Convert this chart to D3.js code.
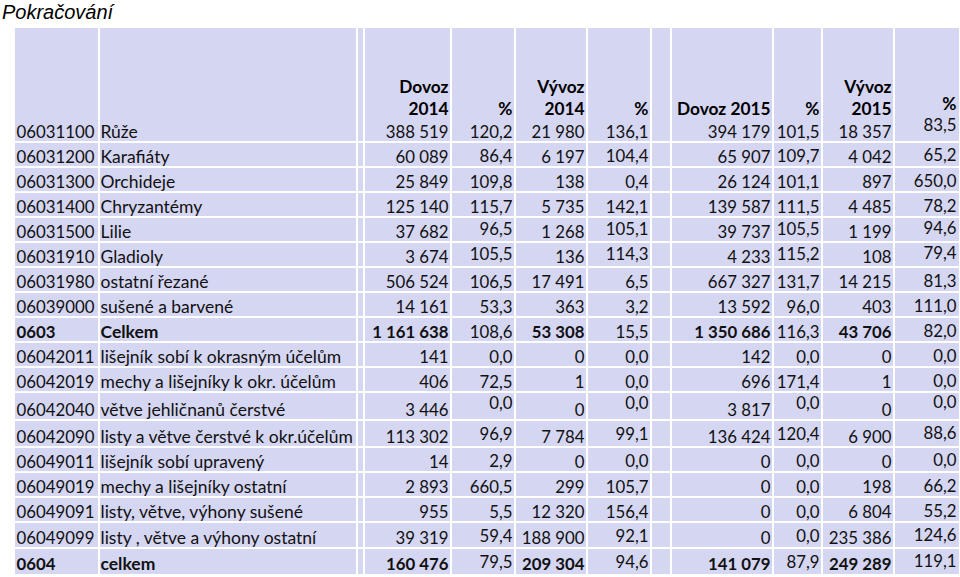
<!DOCTYPE html>
<html>
<head>
<meta charset="utf-8">
<script src="https://cdn.jsdelivr.net/npm/d3@7/dist/d3.min.js"></script>
<style>
  html, body { margin: 0; padding: 0; background: #ffffff; }
  svg { display: block; }
</style>
</head>
<body>
<svg id="chart" width="960" height="577"></svg>
<script>
// ---------- DATA ----------
const title = "Pokračování";
const headers = ["", "", "", "Dovoz\n2014", "%", "Vývoz\n2014", "%", "", "Dovoz 2015", "%", "Vývoz\n2015", "%"];
const codes = ["06031100","06031200","06031300","06031400","06031500","06031910","06031980","06039000","0603",
  "06042011","06042019","06042040","06042090","06049011","06049019","06049091","06049099","0604"];
const names = ["Růže","Karafiáty","Orchideje","Chryzantémy","Lilie","Gladioly","ostatní řezané","sušené a barvené","Celkem",
  "lišejník sobí k okrasným účelům","mechy a lišejníky k okr. účelům","větve jehličnanů čerstvé",
  "listy a větve čerstvé k okr.účelům","lišejník sobí upravený","mechy a lišejníky ostatní",
  "listy, větve, výhony sušené","listy , větve a výhony ostatní","celkem"];
const dovoz2014 = [388519,60089,25849,125140,37682,3674,506524,14161,1161638,141,406,3446,113302,14,2893,955,39319,160476];
const pctDovoz2014 = [120.2,86.4,109.8,115.7,96.5,105.5,106.5,53.3,108.6,0.0,72.5,0.0,96.9,2.9,660.5,5.5,59.4,79.5];
const vyvoz2014 = [21980,6197,138,5735,1268,136,17491,363,53308,0,1,0,7784,0,299,12320,188900,209304];
const pctVyvoz2014 = [136.1,104.4,0.4,142.1,105.1,114.3,6.5,3.2,15.5,0.0,0.0,0.0,99.1,0.0,105.7,156.4,92.1,94.6];
const dovoz2015 = [394179,65907,26124,139587,39737,4233,667327,13592,1350686,142,696,3817,136424,0,0,0,0,141079];
const pctDovoz2015 = [101.5,109.7,101.1,111.5,105.5,115.2,131.7,96.0,116.3,0.0,171.4,0.0,120.4,0.0,0.0,0.0,0.0,87.9];
const vyvoz2015 = [18357,4042,897,4485,1199,108,14215,403,43706,0,1,0,6900,0,198,6804,235386,249289];
const pctVyvoz2015 = [83.5,65.2,650.0,78.2,94.6,79.4,81.3,111.0,82.0,0.0,0.0,0.0,88.6,0.0,66.2,55.2,124.6,119.1];

// ---------- LAYOUT (not data) ----------
const colEdges = [15, 99, 357, 364, 451, 515, 587, 651, 671, 773, 822, 894, 959];
const rowHeights = [114,25,25,25,25,25,25,25,25,25,25,28,27,25,25,25,26,26];
const tableTop = 28;
const pctLift = [0,1,0,0,3,3,0,0,0,0,0,7,3,1,0,0,2,2];   // vertical lift of % cells per row
const FILL = "#d5d6f1";
const FONT = "Lato, 'Open Sans', sans-serif";
const FS_NUM = 16.8;
const FS_NAME = 17.5;
const FS_HDR = 17.3;

const loc = d3.formatLocale({decimal: ",", thousands: "\u00a0", grouping: [3], currency: ["", ""]});
const fInt = loc.format(",d");
const fPct = loc.format(",.1f");

const rowEdges = [tableTop, ...Array.from(d3.cumsum(rowHeights), v => v + tableTop)];
const tableBottom = rowEdges[rowEdges.length - 1];

const svg = d3.select("#chart");
const x = d3.scaleOrdinal().domain(d3.range(colEdges.length)).range(colEdges);
const y = d3.scaleOrdinal().domain(d3.range(rowEdges.length)).range(rowEdges);

// title
svg.append("text").attr("x", 2).attr("y", 19)
  .attr("font-family", "'Liberation Sans', Arial, sans-serif")
  .attr("font-style", "italic").attr("font-size", 20).attr("fill", "#000")
  .text(title);

// background
svg.append("rect").attr("x", x(0)).attr("y", tableTop)
  .attr("width", x(colEdges.length - 1) - x(0)).attr("height", tableBottom - tableTop)
  .attr("fill", FILL);

// grid lines (white)
const g = svg.append("g").attr("stroke", "#ffffff").attr("stroke-width", 2);
g.selectAll("line.v").data(d3.range(1, colEdges.length - 1)).join("line")
  .attr("x1", d => x(d)).attr("x2", d => x(d))
  .attr("y1", tableTop).attr("y2", tableBottom);
g.selectAll("line.h").data(d3.range(1, rowEdges.length - 1)).join("line")
  .attr("x1", x(0)).attr("x2", x(colEdges.length - 1))
  .attr("y1", d => y(d)).attr("y2", d => y(d));

// header text
const hdr = svg.append("g").attr("font-family", FONT).attr("font-size", FS_HDR)
  .attr("font-weight", "bold").attr("fill", "#000").attr("text-anchor", "end");
headers.forEach((h, ci) => {
  if (!h) return;
  const lines = h.split("\n");
  const last = ci === headers.length - 1;
  lines.forEach((ln, li) => {
    const base = last ? 110 : 115;
    hdr.append("text")
      .attr("x", x(ci + 1) - 2.5)
      .attr("y", base - (lines.length - 1 - li) * 22)
      .text(ln);
  });
});

// body
const columns = [
  {col: 0, arr: codes, type: "code", align: "start"},
  {col: 1, arr: names, type: "name", align: "start"},
  {col: 3, arr: dovoz2014, type: "int"},
  {col: 4, arr: pctDovoz2014, type: "pct"},
  {col: 5, arr: vyvoz2014, type: "int"},
  {col: 6, arr: pctVyvoz2014, type: "pct"},
  {col: 8, arr: dovoz2015, type: "int"},
  {col: 9, arr: pctDovoz2015, type: "pct"},
  {col: 10, arr: vyvoz2015, type: "int"},
  {col: 11, arr: pctVyvoz2015, type: "pct", lastCol: true}
];

const body = svg.append("g").attr("font-family", FONT).attr("fill", "#111");
columns.forEach(c => {
  body.selectAll(null).data(c.arr.map((v, i) => ({v, i}))).join("text")
    .attr("font-size", c.type === "name" ? FS_NAME : FS_NUM)
    .attr("text-anchor", c.align || "end")
    .attr("x", c.align === "start" ? x(c.col) + 1.5 : x(c.col + 1) - 2.5)
    .attr("y", d => {
      let base = y(d.i + 1) - 4;
      if (c.type === "pct") {
        base -= pctLift[d.i];
        if (c.lastCol) base -= (d.i === 0 ? 7 : 1);
      }
      return base;
    })
    .attr("font-weight", d => (codes[d.i].length === 4 && c.type !== "pct") ? "bold" : "normal")
    .text(d => c.type === "int" ? fInt(d.v) : c.type === "pct" ? fPct(d.v) : d.v);
});
</script>
</body>
</html>
